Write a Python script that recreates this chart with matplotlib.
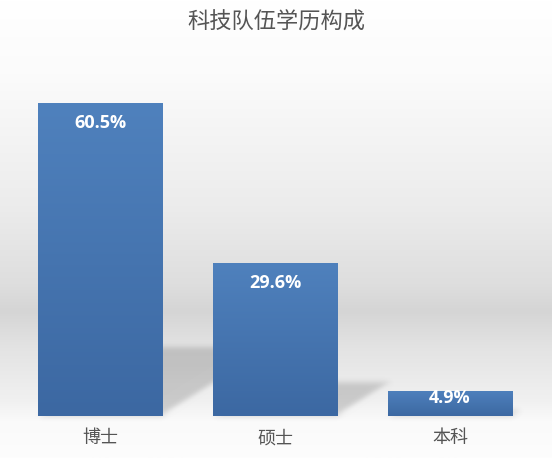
import numpy as np
import matplotlib
matplotlib.use("Agg")
import matplotlib.pyplot as plt
from matplotlib.patches import Polygon
from matplotlib.colors import LinearSegmentedColormap

# ─────────────────────────────────────────────
# Data
# ─────────────────────────────────────────────
categories = ["博士", "硕士", "本科"]
shares = [60.5, 29.6, 4.9]
title = "科技队伍学历构成"

# ─────────────────────────────────────────────
# Style
# ─────────────────────────────────────────────
plt.rcParams["font.family"] = ["Noto Sans CJK SC", "DejaVu Sans"]
TEXT_GRAY = "#555555"
BAR_TOP = "#4f81bd"
BAR_BOTTOM = "#3c68a2"
BAR_WIDTH = 0.71
SHADOW_RATIO = 0.22    # shadow height relative to bar height
SHADOW_SLOPE = 0.62    # rise / run of the shadow side in pixels

W, H, DPI = 552, 458, 100
fig = plt.figure(figsize=(W / DPI, H / DPI), dpi=DPI)

# background: vertical grey gradient over the whole figure
bg = fig.add_axes([0, 0, 1, 1], zorder=0)
bg_cmap = LinearSegmentedColormap.from_list("bg", [
    (0.00, "#ffffff"), (0.16, "#fbfbfb"), (0.45, "#ececec"),
    (0.62, "#dedede"), (0.68, "#d5d5d5"), (0.76, "#e3e3e3"),
    (0.88, "#f1f1f1"), (0.92, "#fafafa"), (1.00, "#fdfdfd"),
])
bg.imshow(np.linspace(0, 1, 256)[:, None], aspect="auto", cmap=bg_cmap,
          extent=[0, 1, 0, 1], vmin=0, vmax=1)
bg.set_axis_off()

# main axes
ax = fig.add_axes([12.5 / W, 42 / H, 525 / W, 362 / H], zorder=1)
ax.set_facecolor("none")
XLIM = (-0.5, 2.5)
YLIM = (0, 70)
px_x = 525 / (XLIM[1] - XLIM[0])
px_y = 362 / (YLIM[1] - YLIM[0])


def gaussian_blur(image, dpi, sigma=3.0):
    pad = int(3 * sigma) + 2
    img = np.pad(image, ((pad, pad), (pad, pad), (0, 0)))
    r = np.arange(-pad, pad + 1)
    k = np.exp(-r ** 2 / (2 * sigma ** 2))
    k /= k.sum()
    for axis in (0, 1):
        img = np.apply_along_axis(lambda m: np.convolve(m, k, mode="same"), axis, img)
    return img, -pad, -pad


x = np.arange(len(categories))
bars = ax.bar(x, shares, width=BAR_WIDTH, color=BAR_TOP, zorder=3)

bar_grad = LinearSegmentedColormap.from_list("bar", [BAR_BOTTOM, BAR_TOP])
for xi, v, rect in zip(x, shares, bars):
    # perspective shadow cast to the back right
    hs = v * SHADOW_RATIO
    dx = hs * px_y / SHADOW_SLOPE / px_x
    x0, x1 = xi - BAR_WIDTH / 2, xi + BAR_WIDTH / 2
    shadow = Polygon([(x0, 0), (x1, 0), (x1 + dx, hs), (x0 + dx, hs)],
                     closed=True, facecolor="black", edgecolor="none",
                     alpha=0.16, zorder=2)
    shadow.set_agg_filter(gaussian_blur)
    ax.add_patch(shadow)

    # vertical gradient fill clipped to the bar
    im = ax.imshow(np.linspace(0, 1, 128)[:, None], aspect="auto", cmap=bar_grad,
                   extent=[x0, x1, 0, v], origin="lower", zorder=4)
    im.set_clip_path(rect)

    # value label inside the bar end
    bar_px = v * px_y
    off = min(20, bar_px / 2 - 5)
    ax.annotate(f"{v:.1f}%", xy=(xi, v), xytext=(0, -off * 72 / DPI),
                textcoords="offset points", ha="center", va="center",
                color="white", fontsize=13, fontweight="bold",
                family=["Open Sans", "DejaVu Sans"], zorder=5)

ax.set_xlim(*XLIM)
ax.set_ylim(*YLIM)
ax.set_xticks(x)
ax.set_xticklabels(categories, fontsize=13, color=TEXT_GRAY)
ax.tick_params(axis="x", length=0, pad=9.5)
ax.set_yticks([])
for s in ax.spines.values():
    s.set_visible(False)

fig.text(0.5, 1 - 22 / H, title, ha="center", va="center",
         fontsize=16, color=TEXT_GRAY)

fig.savefig("out.png", dpi=DPI)
